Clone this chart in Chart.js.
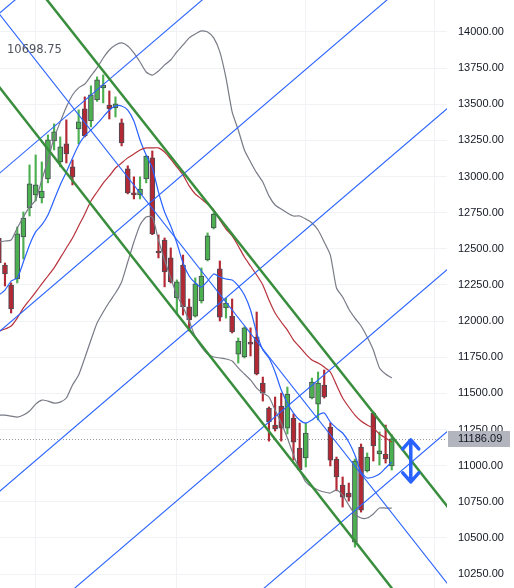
<!DOCTYPE html>
<html>
<head>
<meta charset="utf-8">
<script src="https://cdn.jsdelivr.net/npm/chart.js@4.4.1/dist/chart.umd.min.js"></script>
<style>
html, body { margin: 0; padding: 0; background: #fff; }
#wrap { width: 514px; height: 588px; position: relative; }
</style>
</head>
<body>
<div id="wrap"><canvas id="chart"></canvas></div>
<script>
// candle index of the first (half hidden) bar
var firstIndex = -1;

var opens = [12575, 12388, 12250, 12291, 12582, 12783, 12873, 12852, 12983, 13246,
    13101, 13226, 13067, 13329, 13468, 13385, 13530, 13613, 13495, 13475,
    13371, 13053, 12887, 12873, 12983, 13129, 12485, 12561, 12437, 12160,
    12388, 12098, 12035, 12139, 12423, 12644, 12361, 12091, 12035, 11772,
    11752, 11855, 11890, 11572, 11399, 11281, 11413, 11260, 11329, 11122,
    11053, 11468, 11426, 11558, 11267, 11046, 10866, 10811, 10471, 11129,
    10963, 11364, 11081, 11081, 10998];
var highs = [12596, 12402, 12264, 12651, 12755, 13080, 13149, 13101, 13288, 13364,
    13274, 13392, 13115, 13461, 13551, 13627, 13689, 13703, 13592, 13551,
    13398, 13074, 12998, 12998, 13145, 13177, 12596, 12575, 12506, 12285,
    12457, 12153, 12299, 12368, 12610, 12748, 12416, 12160, 12153, 11883,
    11960, 11953, 12063, 11613, 11406, 11475, 11502, 11544, 11357, 11295,
    11295, 11606, 11648, 11662, 11295, 11060, 10922, 10880, 11046, 11150,
    11088, 11371, 11233, 11281, 11213];
var lows = [12381, 12243, 12056, 12264, 12430, 12727, 12831, 12817, 12956, 13184,
    13067, 13094, 12942, 13226, 13274, 13343, 13520, 13509, 13398, 13412,
    13212, 12880, 12845, 12845, 12956, 12598, 12437, 12237, 12264, 12056,
    12042, 11932, 12028, 12125, 12416, 12637, 12001, 12021, 11918, 11710,
    11745, 11759, 11628, 11447, 11170, 11240, 11170, 11219, 11039, 10965,
    10991, 11462, 11316, 11468, 10998, 10826, 10714, 10755, 10437, 10679,
    10956, 11032, 11004, 11018, 10970];
var closes = [12402, 12326, 12084, 12603, 12713, 12949, 12942, 12900, 13253, 13309,
    13205, 13156, 12998, 13378, 13281, 13565, 13668, 13633, 13468, 13502,
    13232, 12887, 12873, 12914, 13142, 12603, 12471, 12340, 12271, 12271,
    12098, 12008, 12257, 12312, 12589, 12741, 12028, 12125, 11925, 11862,
    11953, 11841, 11634, 11502, 11302, 11254, 11260, 11495, 11163, 10970,
    11226, 11579, 11572, 11475, 11039, 10922, 10783, 10783, 11032, 10693,
    11060, 11136, 11102, 11046, 11186.09];

// bollinger bands and two moving averages, one value per candle
var bbUpper = [12547, 12554, 12561, 12644, 12720, 12790, 12838, 12976, 13114, 13267,
    13377, 13481, 13564, 13613, 13640, 13696, 13751, 13820, 13875, 13910,
    13924, 13903, 13855, 13792, 13723, 13702, 13730, 13772, 13806, 13862,
    13910, 13959, 13986, 14007, 14000, 13959, 13862, 13682, 13447, 13322,
    13184, 13101, 13025, 12962, 12866, 12803, 12775, 12748, 12727, 12727,
    12706, 12679, 12630, 12547, 12457, 12229, 12167, 12084, 12021, 11966,
    11890, 11800, 11676, 11634, 11606];
var bbLower = [11350, 11350, 11343, 11336, 11350, 11378, 11426, 11454, 11447, 11433,
    11440, 11468, 11558, 11627, 11745, 11869, 11987, 12063, 12132, 12194,
    12271, 12409, 12547, 12665, 12720, 12720, 12561, 12423, 12298, 12180,
    12098, 12001, 11890, 11821, 11772, 11752, 11745, 11738, 11724, 11676,
    11634, 11593, 11537, 11502, 11475, 11385, 11295, 11191, 11074, 10970,
    10887, 10852, 10832, 10818, 10811, 10832, 10797, 10728, 10666, 10638,
    10638, 10666, 10707, 10707, 10707];
var maSlow = [11931, 11945, 11966, 12021, 12091, 12146, 12201, 12257, 12312, 12368,
    12437, 12506, 12575, 12658, 12741, 12831, 12893, 12955, 13004, 13059,
    13094, 13129, 13156, 13184, 13198, 13198, 13198, 13170, 13121, 13066,
    13011, 12935, 12879, 12845, 12810, 12769, 12699, 12637, 12589, 12520,
    12443, 12381, 12319, 12250, 12146, 12056, 11994, 11938, 11869, 11821,
    11772, 11731, 11710, 11682, 11648, 11558, 11468, 11406, 11350, 11309,
    11281, 11260, 11219, 11191, 11164];
var maFast = [12180, 12215, 12277, 12298, 12409, 12527, 12617, 12665, 12734, 12838,
    12942, 13031, 13128, 13218, 13281, 13322, 13364, 13412, 13460, 13488,
    13488, 13460, 13384, 13253, 13149, 13059, 12893, 12755, 12658, 12540,
    12402, 12312, 12264, 12236, 12277, 12326, 12305, 12291, 12284, 12243,
    12180, 12077, 11918, 11800, 11745, 11648, 11523, 11433, 11364, 11316,
    11295, 11316, 11350, 11364, 11302, 11260, 11226, 11164, 11074, 10956,
    10915, 10922, 10942, 10984, 11025];

// drawn lines: [x0, price0, x1, price1] in candle index / price
var greenLines = [
    [-2, 14697, 74, 10613],
    [-2, 13677, 74, 9557]
];
var blueLines = [
    [-2, 14182, 74, 10080],
    [-2, 14089, 74, 16849],
    [-2, 12982, 74, 15742],
    [-2, 11889, 74, 14649],
    [-2, 10782, 74, 13542],
    [-2, 9668, 74, 12428],
    [-2, 8547, 74, 11308]
];
var arrow = { x: 66.1, top: 11178, bottom: 10888 };

var yTicks = [10250, 10500, 10750, 11000, 11250, 11500, 11750, 12000, 12250,
    12500, 12750, 13000, 13250, 13500, 13750, 14000];
var xGrid = [5, 28, 49, 70];
var cornerLabel = "10698.75";

var upColor = "#4caf50";
var downColor = "#b22833";

var candleX = opens.map(function (o, i) { return firstIndex + i; });
var lastPrice = closes[closes.length - 1];

function points(values) {
    return values.map(function (v, i) {
        return { x: candleX[i], y: v };
    });
}

function segment(l) {
    return [{ x: l[0], y: l[1] }, { x: l[2], y: l[3] }];
}

var colors = closes.map(function (c, i) {
    return c >= opens[i] ? upColor : downColor;
});

var datasets = [];

greenLines.forEach(function (l) {
    datasets.push({
        type: "line", data: segment(l), borderColor: "#388e3c",
        borderWidth: 2.5, pointRadius: 0, order: 1
    });
});
blueLines.forEach(function (l) {
    datasets.push({
        type: "line", data: segment(l), borderColor: "#2962ff",
        borderWidth: 1.1, pointRadius: 0, order: 2
    });
});
[[bbUpper, "#787b86"], [bbLower, "#787b86"], [maSlow, "#b7323b"], [maFast, "#2962ff"]].forEach(function (s) {
    datasets.push({
        type: "line", data: points(s[0]), borderColor: s[1],
        borderWidth: 1.2, pointRadius: 0, tension: 0.2, order: 3
    });
});

// wicks
datasets.push({
    type: "bar",
    data: candleX.map(function (x, i) { return { x: x, y: [lows[i], highs[i]] }; }),
    backgroundColor: colors,
    barThickness: 1.5,
    grouped: false,
    order: 5
});
// bodies
datasets.push({
    type: "bar",
    data: candleX.map(function (x, i) { return { x: x, y: [opens[i], closes[i]] }; }),
    backgroundColor: colors,
    borderColor: "#4a4d57",
    borderWidth: 1,
    borderSkipped: false,
    barThickness: 5,
    grouped: false,
    order: 4
});

var extras = {
    id: "extras",
    beforeDatasetsDraw: function (chart) {
        var ctx = chart.ctx, area = chart.chartArea;
        var y = chart.scales.y.getPixelForValue(lastPrice);
        ctx.save();
        ctx.strokeStyle = "#9598a1";
        ctx.lineWidth = 1;
        ctx.setLineDash([1, 2]);
        ctx.beginPath();
        ctx.moveTo(area.left, Math.round(y) + 0.5);
        ctx.lineTo(area.right, Math.round(y) + 0.5);
        ctx.stroke();
        ctx.restore();
    },
    afterDraw: function (chart) {
        var ctx = chart.ctx, area = chart.chartArea;
        var xs = chart.scales.x, ys = chart.scales.y;

        // arrow drawing
        var ax = xs.getPixelForValue(arrow.x);
        var at = ys.getPixelForValue(arrow.top);
        var ab = ys.getPixelForValue(arrow.bottom);
        ctx.save();
        ctx.strokeStyle = "#2962ff";
        ctx.lineWidth = 3.5;
        ctx.lineCap = "round";
        ctx.lineJoin = "round";
        ctx.beginPath();
        ctx.moveTo(ax, at); ctx.lineTo(ax, ab);
        ctx.moveTo(ax - 8, at + 9); ctx.lineTo(ax, at); ctx.lineTo(ax + 8, at + 9);
        ctx.moveTo(ax - 8, ab - 9); ctx.lineTo(ax, ab); ctx.lineTo(ax + 8, ab - 9);
        ctx.stroke();

        // last price tag
        var y = ys.getPixelForValue(lastPrice);
        ctx.fillStyle = "#b2b5be";
        ctx.fillRect(area.right + 1, Math.round(y) - 8, 62, 16);
        ctx.fillStyle = "#131722";
        ctx.font = "11px 'Liberation Sans', Arial, sans-serif";
        ctx.textBaseline = "middle";
        ctx.textAlign = "left";
        ctx.fillText(lastPrice.toFixed(2), area.right + 11, y);

        // top left label
        ctx.fillStyle = "#50535e";
        ctx.font = "11.5px 'DejaVu Sans', sans-serif";
        ctx.fillText(cornerLabel, area.left + 7, area.top + 50);
        ctx.restore();
    }
};

new Chart(document.getElementById("chart"), {
    type: "bar",
    data: { datasets: datasets },
    plugins: [extras],
    options: {
        responsive: true,
        maintainAspectRatio: false,
        animation: false,
        layout: { padding: 0 },
        plugins: {
            legend: { display: false },
            tooltip: { enabled: false }
        },
        scales: {
            x: {
                type: "linear",
                min: -0.81,
                max: 72.0,
                offset: false,
                grid: { color: "#f0f2f6", drawTicks: false, offset: false },
                border: { display: false },
                ticks: { display: false },
                afterBuildTicks: function (s) {
                    s.ticks = xGrid.map(function (v) { return { value: v }; });
                },
                afterFit: function (s) {
                    s.height = 0;
                    s.paddingLeft = 0;
                    s.paddingRight = 0;
                }
            },
            y: {
                type: "linear",
                position: "right",
                min: 10154,
                max: 14221,
                grid: { color: "#f0f2f6", drawTicks: false },
                border: { display: false },
                ticks: {
                    color: "#131722",
                    padding: 11,
                    font: { family: "'Liberation Sans', Arial, sans-serif", size: 11 },
                    callback: function (v) { return Number(v).toFixed(2); }
                },
                afterBuildTicks: function (s) {
                    s.ticks = yTicks.map(function (v) { return { value: v }; });
                },
                afterFit: function (s) {
                    s.width = 67;
                    s.paddingTop = 0;
                    s.paddingBottom = 0;
                }
            }
        }
    }
});
</script>
</body>
</html>
